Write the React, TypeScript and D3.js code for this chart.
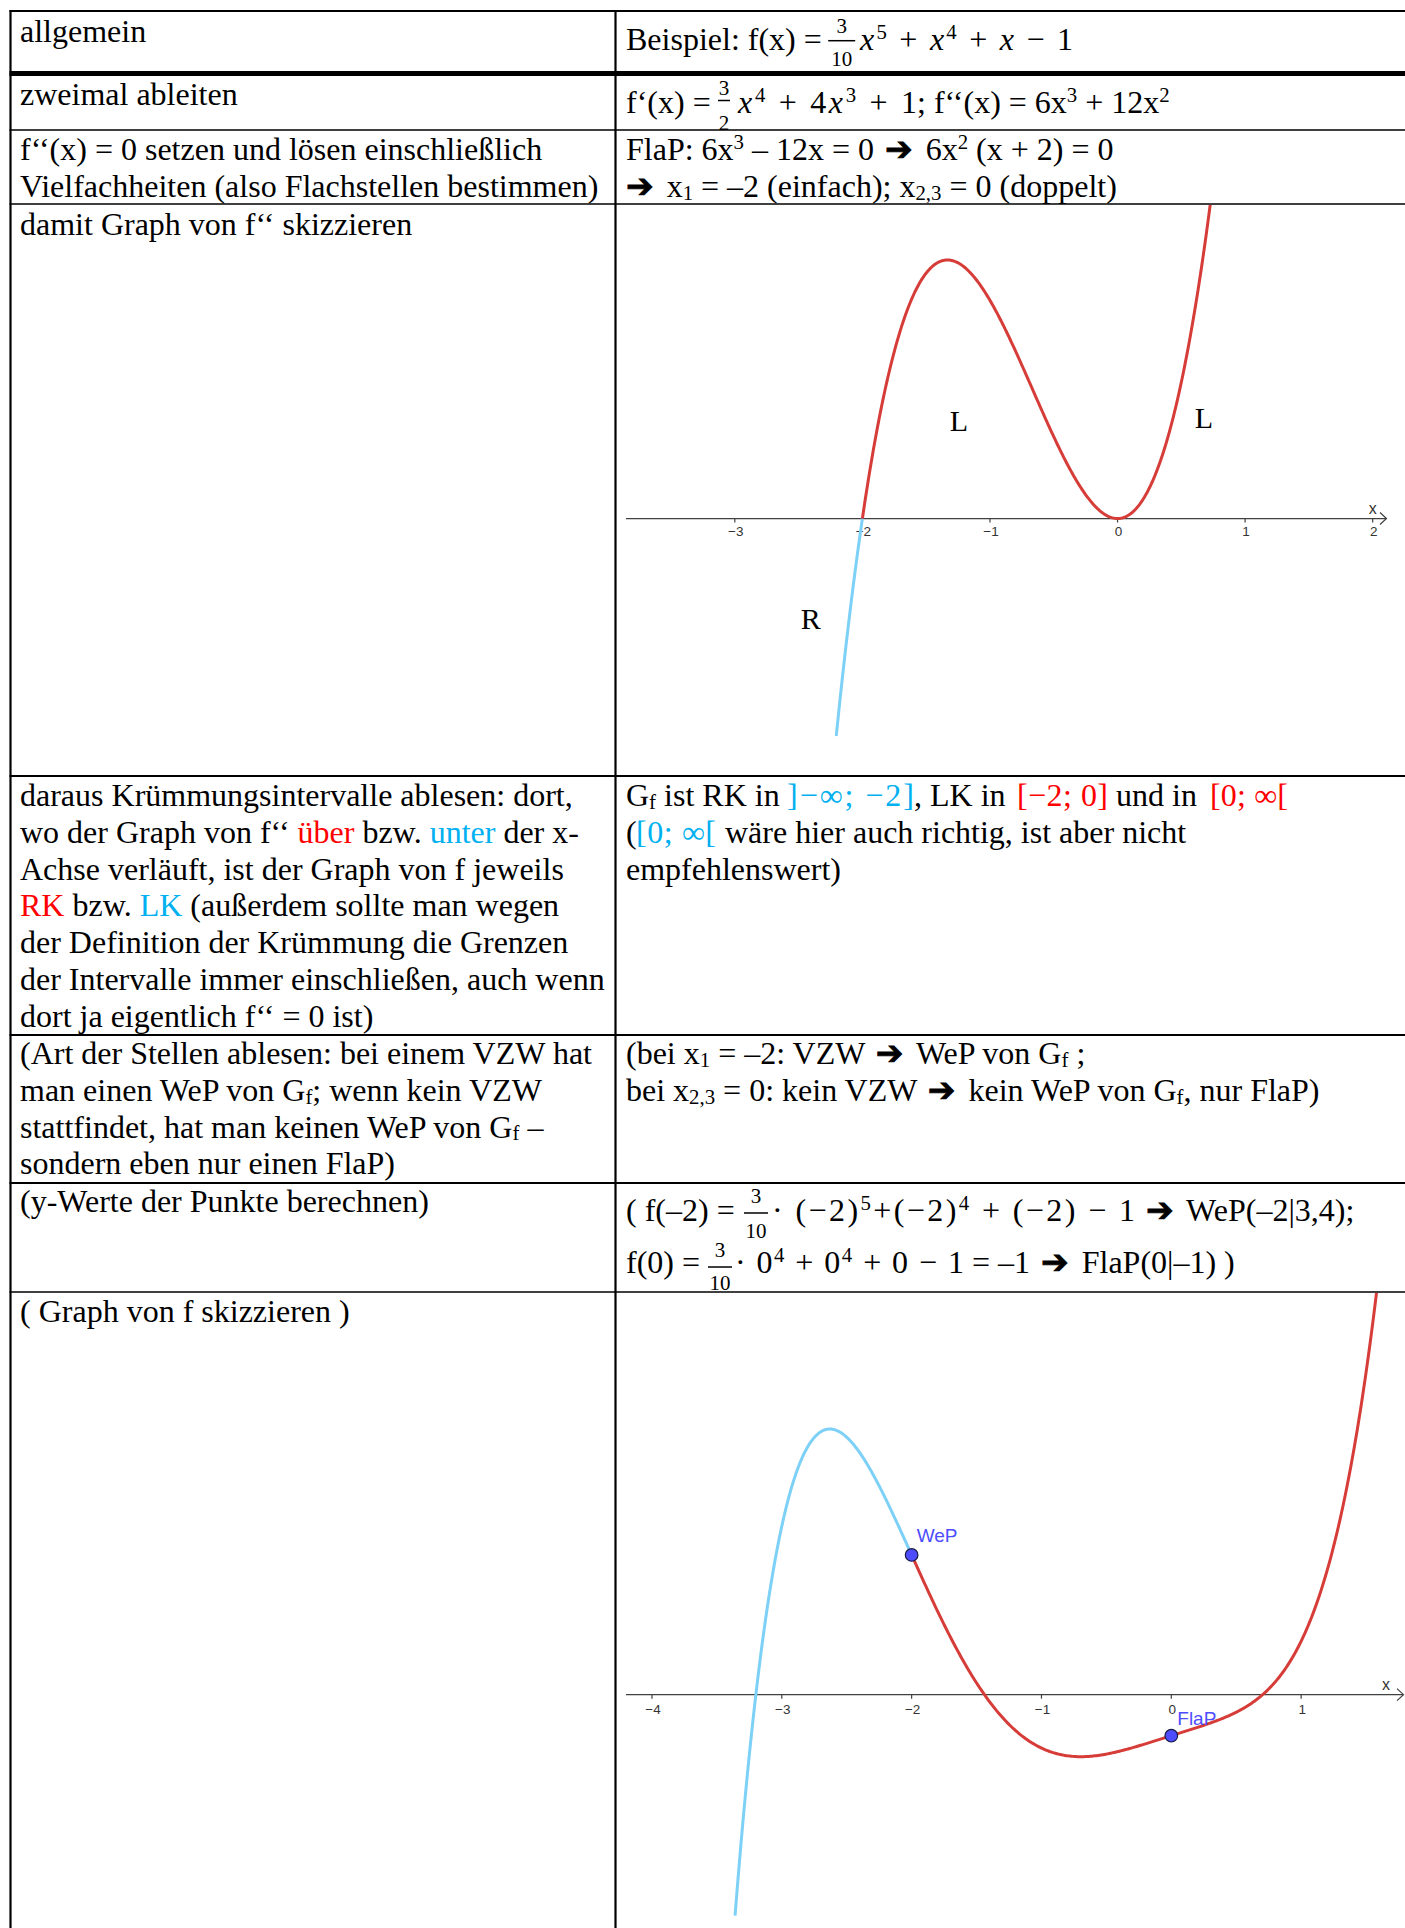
import * as d3 from "d3";
import React from "react";

type Run = { t: string; c?: string; sup?: boolean; sub?: boolean; it?: boolean; sym?: boolean };
type Piece = { x: number; y: number; w?: number; runs: Run[] };

const SERIF = "'Liberation Serif', 'Times New Roman', serif";
const SANS = "'Liberation Sans', Arial, sans-serif";
const RED = "#ff0000";
const BLUE = "#00b0f0";
const CURVE_RED = "#d63c38";
const CURVE_BLUE = "#7dd0f6";
const POINT_BLUE = "#4d4dff";

const W = 1405;
const H = 1928;
const LX = 20; // Textanfang linke Spalte
const RX = 626; // Textanfang rechte Spalte
const LH = 36.75; // Zeilenabstand

// kleine Helfer für formatierten Text
const t = (s: string): Run => ({ t: s });
const red = (s: string): Run => ({ t: s, c: RED });
const blue = (s: string): Run => ({ t: s, c: BLUE });
const sup = (s: string): Run => ({ t: s, sup: true });
const sub = (s: string): Run => ({ t: s, sub: true });
const it = (s: string): Run => ({ t: s, it: true });
const arrow: Run = { t: "➔", sym: true };

// Tabelle: Spalten und Zeilengrenzen
const colX = [10.5, 615.5];
const rowY = [11, 73.5, 130, 204, 776, 1035, 1183, 1292];
const rowW = [2, 5, 1.5, 1.5, 2, 2, 2, 1.5];

// Daten der beiden Graphen
const fCoeffs = [0.3, 1, 0, 0, 1, -1]; // f(x) = 3/10 x^5 + x^4 + x - 1
const f2Coeffs = [6, 12, 0, 0]; // f''(x) = 6x^3 + 12x^2
const g1Ticks = [-3, -2, -1, 0, 1, 2];
const g2Ticks = [-4, -3, -2, -1, 0, 1];
const g1Blue = [-2.205, -2];
const g1Red = [-2, 0.8];
const g2Blue = [-3.36, -2];
const g2Red = [-2, 1.65];
const g1Notes = [
  { x: -1.315, y: 2.4, s: "L" },
  { x: 0.605, y: 2.49, s: "L" },
  { x: -2.483, y: -3.04, s: "R" },
];
const g2Points = [
  { x: -2, y: 3.4, s: "WeP" },
  { x: 0, y: -1, s: "FlaP" },
];

const block = (y0: number, lines: Run[][]): Piece[] =>
  lines.map((runs, i) => ({ x: LX, y: y0 + i * LH, runs }));

const leftText: Piece[] = [
  { x: LX, y: 42, runs: [t("allgemein")] },
  { x: LX, y: 105, runs: [t("zweimal ableiten")] },
  ...block(160, [
    [t("f‘‘(x) = 0 setzen und lösen einschließlich")],
    [t("Vielfachheiten (also Flachstellen bestimmen)")],
  ]),
  { x: LX, y: 235, runs: [t("damit Graph von f‘‘ skizzieren")] },
  ...block(806, [
    [t("daraus Krümmungsintervalle ablesen: dort,")],
    [t("wo der Graph von f‘‘ "), red("über"), t(" bzw. "), blue("unter"), t(" der x-")],
    [t("Achse verläuft, ist der Graph von f jeweils")],
    [red("RK"), t(" bzw. "), blue("LK"), t(" (außerdem sollte man wegen")],
    [t("der Definition der Krümmung die Grenzen")],
    [t("der Intervalle immer einschließen, auch wenn")],
    [t("dort ja eigentlich f‘‘ = 0 ist)")],
  ]),
  ...block(1064, [
    [t("(Art der Stellen ablesen: bei einem VZW hat")],
    [t("man einen WeP von G"), sub("f"), t("; wenn kein VZW")],
    [t("stattfindet, hat man keinen WeP von G"), sub("f"), t(" –")],
    [t("sondern eben nur einen FlaP)")],
  ]),
  { x: LX, y: 1212, runs: [t("(y-Werte der Punkte berechnen)")] },
  { x: LX, y: 1322, runs: [t("( Graph von f skizzieren )")] },
];

const rightText: Piece[] = [
  { x: RX, y: 50, runs: [t("Beispiel: f(x) =")] },
  { x: 860, y: 50, w: 213, runs: [it("x"), sup("5"), t(" + "), it("x"), sup("4"), t(" + "), it("x"), t(" − 1")] },
  { x: RX, y: 113, runs: [t("f‘(x) =")] },
  { x: 738, y: 113, w: 179, runs: [it("x"), sup("4"), t(" + 4"), it("x"), sup("3"), t(" + 1")] },
  { x: 917, y: 113, runs: [t("; f‘‘(x) = 6x"), sup("3"), t(" + 12x"), sup("2")] },
  { x: RX, y: 160, runs: [t("FlaP: 6x"), sup("3"), t(" – 12x = 0 "), arrow, t(" 6x"), sup("2"), t(" (x + 2) = 0")] },
  { x: RX, y: 197, runs: [arrow, t(" x"), sub("1"), t(" = –2 (einfach); x"), sub("2,3"), t(" = 0 (doppelt)")] },
  { x: RX, y: 806, runs: [t("G"), sub("f"), t(" ist RK in ")] },
  { x: 787, y: 806, w: 127, runs: [blue("]−∞; −2]")] },
  { x: 914, y: 806, runs: [t(", LK in ")] },
  { x: 1017, y: 806, w: 91, runs: [red("[−2; 0]")] },
  { x: 1108, y: 806, runs: [t(" und in ")] },
  { x: 1210, y: 806, w: 78, runs: [red("[0; ∞[")] },
  { x: RX, y: 806 + LH, runs: [t("(")] },
  { x: 636, y: 806 + LH, w: 80, runs: [blue("[0; ∞[")] },
  { x: 717, y: 806 + LH, runs: [t(" wäre hier auch richtig, ist aber nicht")] },
  { x: RX, y: 806 + 2 * LH, runs: [t("empfehlenswert)")] },
  { x: RX, y: 1064, runs: [t("(bei x"), sub("1"), t(" = –2: VZW "), arrow, t(" WeP von G"), sub("f"), t(" ;")] },
  {
    x: RX,
    y: 1064 + LH,
    runs: [t("bei x"), sub("2,3"), t(" = 0: kein VZW "), arrow, t(" kein WeP von G"), sub("f"), t(", nur FlaP)")],
  },
  { x: RX, y: 1221, runs: [t("( f(–2) =")] },
  { x: 772, y: 1221, w: 363, runs: [t("· (−2)"), sup("5"), t("+(−2)"), sup("4"), t(" + (−2) − 1")] },
  { x: 1135, y: 1221, runs: [t(" "), arrow, t(" WeP(–2|3,4);")] },
  { x: RX, y: 1273, runs: [t("f(0) =")] },
  { x: 735, y: 1273, w: 229, runs: [t("· 0"), sup("4"), t(" + 0"), sup("4"), t(" + 0 − 1")] },
  { x: 964, y: 1273, runs: [t(" = –1 "), arrow, t(" FlaP(0|–1) )")] },
];

// Brüche: Mitte, Zähler-, Bruchstrich- und Nennerhöhe
const fractions = [
  { cx: 841.7, yn: 32.5, yb: 40.7, yd: 66, half: 13.5, num: "3", den: "10" },
  { cx: 724, yn: 95, yb: 100.5, yd: 130, half: 6, num: "3", den: "2" },
  { cx: 756, yn: 1203, yb: 1213, yd: 1238, half: 12, num: "3", den: "10" },
  { cx: 720, yn: 1257, yb: 1267, yd: 1290, half: 12, num: "3", den: "10" },
];

function RichText({ p, size = 32 }: { p: Piece; size?: number }) {
  let shift = 0;
  return (
    <text
      x={p.x}
      y={p.y}
      fontFamily={SERIF}
      fontSize={size}
      textLength={p.w}
      lengthAdjust={p.w ? "spacing" : undefined}
      style={{ whiteSpace: "pre" }}
    >
      {p.runs.map((r, i) => {
        const target = r.sup ? -0.34 * size : r.sub ? 0.09 * size : 0;
        const dy = target - shift;
        shift = target;
        return (
          <tspan
            key={i}
            dx={r.sym && i > 0 ? 3 : undefined}
            dy={dy || undefined}
            fill={r.c || "#000"}
            stroke={r.sym ? "#000" : undefined}
            strokeWidth={r.sym ? 0.8 : undefined}
            letterSpacing={r.sym ? 5 : undefined}
            fontSize={r.sup || r.sub ? size * 0.65 : r.sym ? 33 : undefined}
            fontStyle={r.it ? "italic" : undefined}
            fontWeight={r.sym ? "bold" : undefined}
            fontFamily={r.sym ? "'DejaVu Sans'" : undefined}
          >
            {r.t}
          </tspan>
        );
      })}
    </text>
  );
}

const evalPoly = (c: number[], x: number) => c.reduce((a, k) => a * x + k, 0);
const sample = ([a, b]: number[]) => [...d3.range(a, b, (b - a) / 300), b];

function Graph({
  id,
  xs,
  ys,
  coeffs,
  ticks,
  parts,
  xLabelAt,
  labelDy,
  children,
}: {
  id: string;
  xs: d3.ScaleLinear<number, number>;
  ys: d3.ScaleLinear<number, number>;
  coeffs: number[];
  ticks: number[];
  parts: { dom: number[]; color: string }[];
  xLabelAt: number;
  labelDy: number;
  children?: React.ReactNode;
}) {
  const [xa, xb] = xs.range();
  const [yb, ya] = ys.range();
  const y0 = ys(0);
  const fmt = d3.format("d");
  const line = d3
    .line<number>()
    .x((d) => xs(d))
    .y((d) => ys(evalPoly(coeffs, d)));
  return (
    <g>
      <defs>
        <clipPath id={id}>
          <rect x={xa - 8} y={ya + 1} width={xb - xa + 16} height={yb - ya - 2} />
        </clipPath>
      </defs>
      <line x1={xa} x2={xb - 2} y1={y0} y2={y0} stroke="#404040" strokeWidth={1.3} />
      <path
        d={`M${xb - 8},${y0 - 6}L${xb - 1.5},${y0}L${xb - 8},${y0 + 6}`}
        fill="none"
        stroke="#404040"
        strokeWidth={1.2}
      />
      {ticks.map((v) => (
        <g key={v}>
          <line x1={xs(v)} x2={xs(v)} y1={y0} y2={y0 + 4} stroke="#404040" strokeWidth={1.2} />
          <text x={xs(v) + 1} y={y0 + labelDy} fontFamily={SANS} fontSize={13.5} fill="#333" textAnchor="middle">
            {fmt(v)}
          </text>
        </g>
      ))}
      <text x={xs(xLabelAt)} y={y0 - 5} fontFamily={SANS} fontSize={16} fill="#333" textAnchor="middle">
        x
      </text>
      <g clipPath={`url(#${id})`}>
        {parts.map((p, i) => (
          <path key={i} d={line(sample(p.dom)) || ""} fill="none" stroke={p.color} strokeWidth={3} strokeLinejoin="round" />
        ))}
      </g>
      {children}
    </g>
  );
}

export default function App() {
  // Graph von f'' (Zeile 4)
  const g1x = d3.scaleLinear([-3.853, 2.12], [626, 1388]);
  const g1y = d3.scaleLinear([-7.08, 8.65], [rowY[4], rowY[3]]);
  // Graph von f (letzte Zeile)
  const g2x = d3.scaleLinear([-4.2, 1.8], [626, 1405]);
  const g2y = d3.scaleLinear([-5.68, 9.8], [H, rowY[7]]);
  const pointLabelOffset = [
    [5, -13],
    [6, -11],
  ];

  return (
    <svg width={W} height={H} style={{ position: "absolute", left: 0, top: 0, background: "#fff" }}>
      <rect width={W} height={H} fill="#fff" />

      {rowY.map((y, i) => (
        <line key={i} x1={colX[0] - 1} x2={W} y1={y} y2={y} stroke="#000" strokeWidth={rowW[i]} />
      ))}
      {colX.map((x, i) => (
        <line key={i} x1={x} x2={x} y1={rowY[0] - 1} y2={H} stroke="#000" strokeWidth={2.2} />
      ))}

      {leftText.map((p, i) => (
        <RichText key={"l" + i} p={p} />
      ))}
      {rightText.map((p, i) => (
        <RichText key={"r" + i} p={p} />
      ))}
      {fractions.map((f, i) => (
        <g key={"f" + i} fontFamily={SERIF} fontSize={21} textAnchor="middle">
          <text x={f.cx} y={f.yn}>
            {f.num}
          </text>
          <line x1={f.cx - f.half} x2={f.cx + f.half} y1={f.yb} y2={f.yb} stroke="#000" strokeWidth={1.5} />
          <text x={f.cx} y={f.yd}>
            {f.den}
          </text>
        </g>
      ))}

      <Graph
        id="clip1"
        xs={g1x}
        ys={g1y}
        coeffs={f2Coeffs}
        ticks={g1Ticks}
        parts={[
          { dom: g1Blue, color: CURVE_BLUE },
          { dom: g1Red, color: CURVE_RED },
        ]}
        xLabelAt={2.0}
        labelDy={17}
      >
        {g1Notes.map((n, i) => (
          <text key={i} x={g1x(n.x)} y={g1y(n.y)} fontFamily={SERIF} fontSize={30}>
            {n.s}
          </text>
        ))}
      </Graph>

      <Graph
        id="clip2"
        xs={g2x}
        ys={g2y}
        coeffs={fCoeffs}
        ticks={g2Ticks}
        parts={[
          { dom: g2Blue, color: CURVE_BLUE },
          { dom: g2Red, color: CURVE_RED },
        ]}
        xLabelAt={1.654}
        labelDy={19}
      >
        {g2Points.map((p, i) => (
          <g key={i}>
            <circle cx={g2x(p.x)} cy={g2y(p.y)} r={6.3} fill={POINT_BLUE} stroke="#1a1a40" strokeWidth={1.2} />
            <text
              x={g2x(p.x) + pointLabelOffset[i][0]}
              y={g2y(p.y) + pointLabelOffset[i][1]}
              fontFamily={SANS}
              fontSize={19}
              fill={POINT_BLUE}
            >
              {p.s}
            </text>
          </g>
        ))}
      </Graph>
    </svg>
  );
}
